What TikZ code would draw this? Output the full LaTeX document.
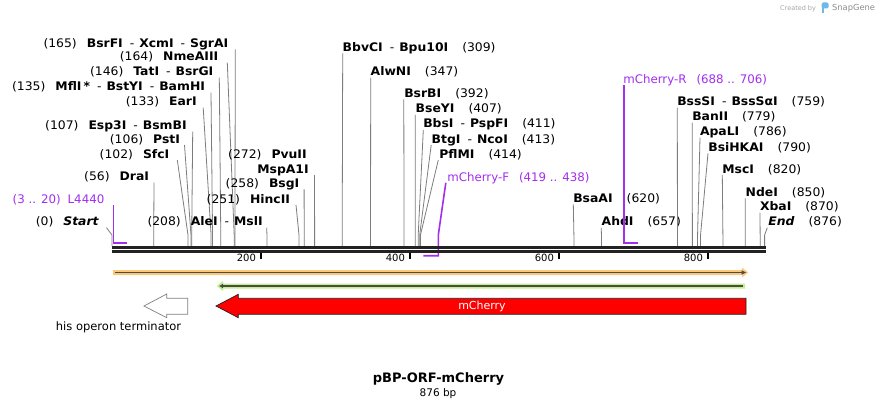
\documentclass[tikz,border=0pt]{standalone}
\usepackage{fontspec}
\setmainfont{DejaVu Sans}
\newfontfamily\lblfont{DejaVu Sans}[FakeStretch=1.05]
\usetikzlibrary{calc}
\definecolor{cutgray}{RGB}{125,125,125}
\definecolor{seqblack}{RGB}{34,34,34}
\definecolor{primer}{RGB}{163,46,240}
\definecolor{orangef}{RGB}{250,200,120}
\definecolor{greenf}{RGB}{195,240,140}
\definecolor{darkf}{RGB}{75,75,75}
\definecolor{redf}{RGB}{255,0,0}
\definecolor{logoblue}{RGB}{110,185,230}
\tikzset{
  enz/.style={font=\lblfont\fontsize{11.8}{13}\selectfont, inner sep=0pt, outer sep=0pt, text=black},
  primerlbl/.style={font=\fontsize{11.8}{13}\selectfont, inner sep=0pt, outer sep=0pt, text=primer},
  cut/.style={draw=cutgray, line width=0.8pt},
  primerline/.style={draw=primer, line width=1.6pt},
  seqline/.style={draw=seqblack},
  tickmark/.style={draw=black, line width=2pt},
  ticklbl/.style={font=\fontsize{10}{12}\selectfont, inner sep=0pt, anchor=east},
}
\newcommand\en[1]{\textbf{#1}}
\newcommand\enzdash{\hspace{7pt}-\hspace{5pt}}
\newcommand\lgap{\hspace{10pt}}
\newcommand\rgap{\hspace{14pt}}
% left label: id, bp, x of right end, y centre, start offset, text
\newcommand\lenz[6]{%
  \coordinate (s#1) at ({112+0.745*#2},246);
  \node[enz, anchor=base east] (l#1) at (#3,{#4+4}) {#6};
  \draw[cut] ($(l#1.base east)+(#5,2)$) -- ([yshift=11pt]s#1) -- (s#1);
}
% right label: id, bp, x of left end, y centre, start offset, text
\newcommand\renz[6]{%
  \coordinate (s#1) at ({112+0.745*#2},246);
  \node[enz, anchor=base west] (l#1) at (#3,{#4+4}) {#6};
  \draw[cut] ($(l#1.base west)+(#5,2)$) -- ([yshift=11pt]s#1) -- (s#1);
}
\begin{document}
\begin{tikzpicture}[x=1pt,y=-1pt]
\useasboundingbox[fill=white] (0,0) rectangle (878,409);

% ---- enzyme labels, left group
\lenz{BsrFI}{165}{228.3}{43.3}{7}{(165)\lgap\en{BsrFI}\enzdash\en{XcmI}\enzdash\en{SgrAI}}
\lenz{NmeAIII}{164}{218.3}{56.7}{9}{(164)\lgap\en{NmeAIII}}
\lenz{TatI}{146}{213.3}{71.7}{6}{(146)\lgap\en{TatI}\enzdash\en{BsrGI}}
\lenz{MflI}{135}{205}{86.7}{6}{(135)\lgap\en{MflI\,*}\enzdash\en{BstYI}\enzdash\en{BamHI}}
\lenz{EarI}{133}{196.7}{101.7}{6.5}{(133)\lgap\en{EarI}}
\lenz{Esp3I}{107}{186.7}{125.7}{6}{(107)\lgap\en{Esp3I}\enzdash\en{BsmBI}}
\lenz{PstI}{106}{180}{139}{4.5}{(106)\lgap\en{PstI}}
\lenz{SfcI}{102}{169.3}{154}{8}{(102)\lgap\en{SfcI}}
\lenz{DraI}{56}{149}{176.7}{5}{(56)\lgap\en{DraI}}
\lenz{Start}{0}{99}{221.7}{7.5}{(0)\lgap\textbf{\itshape Start}}
\lenz{AleI}{208}{262.7}{221.7}{4}{(208)\lgap\en{AleI}\enzdash\en{MslI}}
\lenz{HincII}{251}{290}{199}{6}{(251)\lgap\en{HincII}}
\lenz{BsgI}{258}{299.3}{183.3}{4.8}{(258)\lgap\en{BsgI}}
\lenz{MspAI}{272}{308.7}{169}{5.8}{\en{MspA1I}}
\node[enz, anchor=base east] (lPvuII) at (306.7,158) {(272)\lgap\en{PvuII}};

% ---- enzyme labels, right group
\renz{BbvCI}{309}{342.7}{47.3}{0}{\en{BbvCI}\enzdash\en{Bpu10I}\rgap(309)}
\renz{AlwNI}{347}{370.7}{71.7}{0}{\en{AlwNI}\rgap(347)}
\renz{BsrBI}{392}{404.3}{93.3}{-0.5}{\en{BsrBI}\rgap(392)}
\renz{BseYI}{407}{415.7}{109}{-0.5}{\en{BseYI}\rgap(407)}
\renz{BbsI}{411}{423.3}{124}{0}{\en{BbsI}\enzdash\en{PspFI}\rgap(411)}
\renz{BtgI}{413}{431.7}{139}{-0.5}{\en{BtgI}\enzdash\en{NcoI}\rgap(413)}
\renz{PflMI}{414}{439.3}{154}{-1}{\en{PflMI}\rgap(414)}
\renz{BsaAI}{620}{573.3}{198.3}{0}{\en{BsaAI}\rgap(620)}
\renz{AhdI}{657}{601.7}{221.7}{-0.5}{\en{AhdI}\rgap(657)}
\renz{BssSI}{759}{677.3}{101.7}{0}{\en{BssSI}\enzdash\en{BssSαI}\rgap(759)}
\renz{BanII}{779}{692.3}{116.7}{0}{\en{BanII}\rgap(779)}
\renz{ApaLI}{786}{700}{131.7}{0}{\en{ApaLI}\rgap(786)}
\renz{BsiHKAI}{790}{708.3}{147.3}{-0.3}{\en{BsiHKAI}\rgap(790)}
\renz{MscI}{820}{722.3}{169}{0}{\en{MscI}\rgap(820)}
\renz{NdeI}{850}{745.7}{192.3}{-0.5}{\en{NdeI}\rgap(850)}
\renz{XbaI}{870}{760}{206.7}{0}{\en{XbaI}\rgap(870)}
\renz{End}{876}{768.3}{221.7}{-1}{\textbf{\itshape End}\rgap(876)}

% ---- primers
\coordinate (LAa) at ({112+0.745*2},242.7);
\coordinate (LAb) at ({112+0.745*20},242.7);
\node[primerlbl, anchor=base east] (pL4440) at (104.3,203) {(3 .. 20)\hspace{7pt}L4440};
\draw[primerline] ($(LAa |- pL4440.base)+(0,2)$) -- (LAa) -- (LAb);

\coordinate (mFa) at ({112+0.745*418},255.7);
\coordinate (mFb) at ({112+0.745*438},255.7);
\node[primerlbl, anchor=base west] (pmF) at (447.3,181.3) {mCherry-F\hspace{10pt}(419 .. 438)};
\draw[primerline] ($(pmF.base west)+(-1.5,1.5)$) -- ([yshift=20.7pt]mFb) -- (mFb) -- (mFa);

\coordinate (mRa) at ({112+0.745*687},242.7);
\coordinate (mRb) at ({112+0.745*706},242.7);
\node[primerlbl, anchor=base west] (pmR) at (623.3,83.3) {mCherry-R\hspace{10pt}(688 .. 706)};
\draw[primerline] ($(mRa |- pmR.base)+(0,2)$) -- (mRa) -- (mRb);

% ---- sequence line
\coordinate (seqL) at (112,247);
\coordinate (seqR) at (765.5,247);
\draw[seqline, line width=3pt] (seqL) -- (seqR);
\draw[seqline, line width=2.5pt] ([yshift=-4.5pt]seqL) -- ([yshift=-4.5pt]seqR);

% ---- ticks
\foreach \t in {200,400,600,800}{
  \coordinate (t\t) at ({112+0.745*(\t-0.5)},253.3);
  \draw[tickmark] (t\t) -- ([yshift=-6pt]t\t);
  \node[ticklbl] (tl\t) at ([xshift=-4.5pt,yshift=-5pt]t\t) {\t};
}

% ---- features
\fill[orangef] (113,270) -- (742,270) -- (742,267.7) -- (748.3,272.5) -- (742,277.3) -- (742,275) -- (113,275) -- cycle;
\draw[darkf, line width=1.5pt] (115,272.5) -- (742.5,272.5);
\fill[darkf] (741.5,270.3) -- (746,272.5) -- (741.5,274.7) -- cycle;

\fill[greenf] (223,283.5) -- (745,283.5) -- (745,288.5) -- (223,288.5) -- (223,291) -- (216.7,286) -- (223,281) -- cycle;
\draw[darkf, line width=1.5pt] (222,286) -- (743,286);
\fill[darkf] (223,283.8) -- (219.2,286) -- (223,288.2) -- cycle;

\filldraw[fill=redf, draw=seqblack, line width=0.7pt] (216,306) -- (238.3,294.3) -- (238.3,298.3) -- (746,298.3) -- (746,314.3) -- (238.3,314.3) -- (238.3,317.7) -- cycle;
\node[text=white, font=\fontsize{11}{13}\selectfont, inner sep=0pt] (mCherry) at (482,306) {mCherry};

\filldraw[fill=white, draw=gray, line width=0.7pt] (144,306) -- (166.7,294) -- (166.7,298.3) -- (187.7,298.3) -- (187.7,314.3) -- (166.7,314.3) -- (166.7,317.7) -- cycle;
\node[font=\fontsize{11.5}{13}\selectfont, inner sep=0pt] (hisT) at (118.5,327) {his operon terminator};

% ---- title
\node[font=\bfseries\fontsize{13}{15}\selectfont, inner sep=0pt, anchor=base] (title) at (438.5,382.5) {pBP-ORF-mCherry};
\node[font=\fontsize{10.5}{12}\selectfont, inner sep=0pt, anchor=base] (size) at (438,396.5) {876 bp};

% ---- credit
\node[font=\fontsize{6.5}{8}\selectfont, text=black!35, inner sep=0pt, anchor=base west] (credit) at (780,10.5) {Created by};
\fill[logoblue, rounded corners=1.5pt] (821.5,2.5) rectangle (828.5,8.5);
\fill[logoblue] (821.5,7) rectangle (824.3,13);
\node[font=\fontsize{8.3}{10}\selectfont, text=black!45, inner sep=0pt, anchor=base west] (snapgene) at (832,10.8) {SnapGene};
\end{tikzpicture}
\end{document}
